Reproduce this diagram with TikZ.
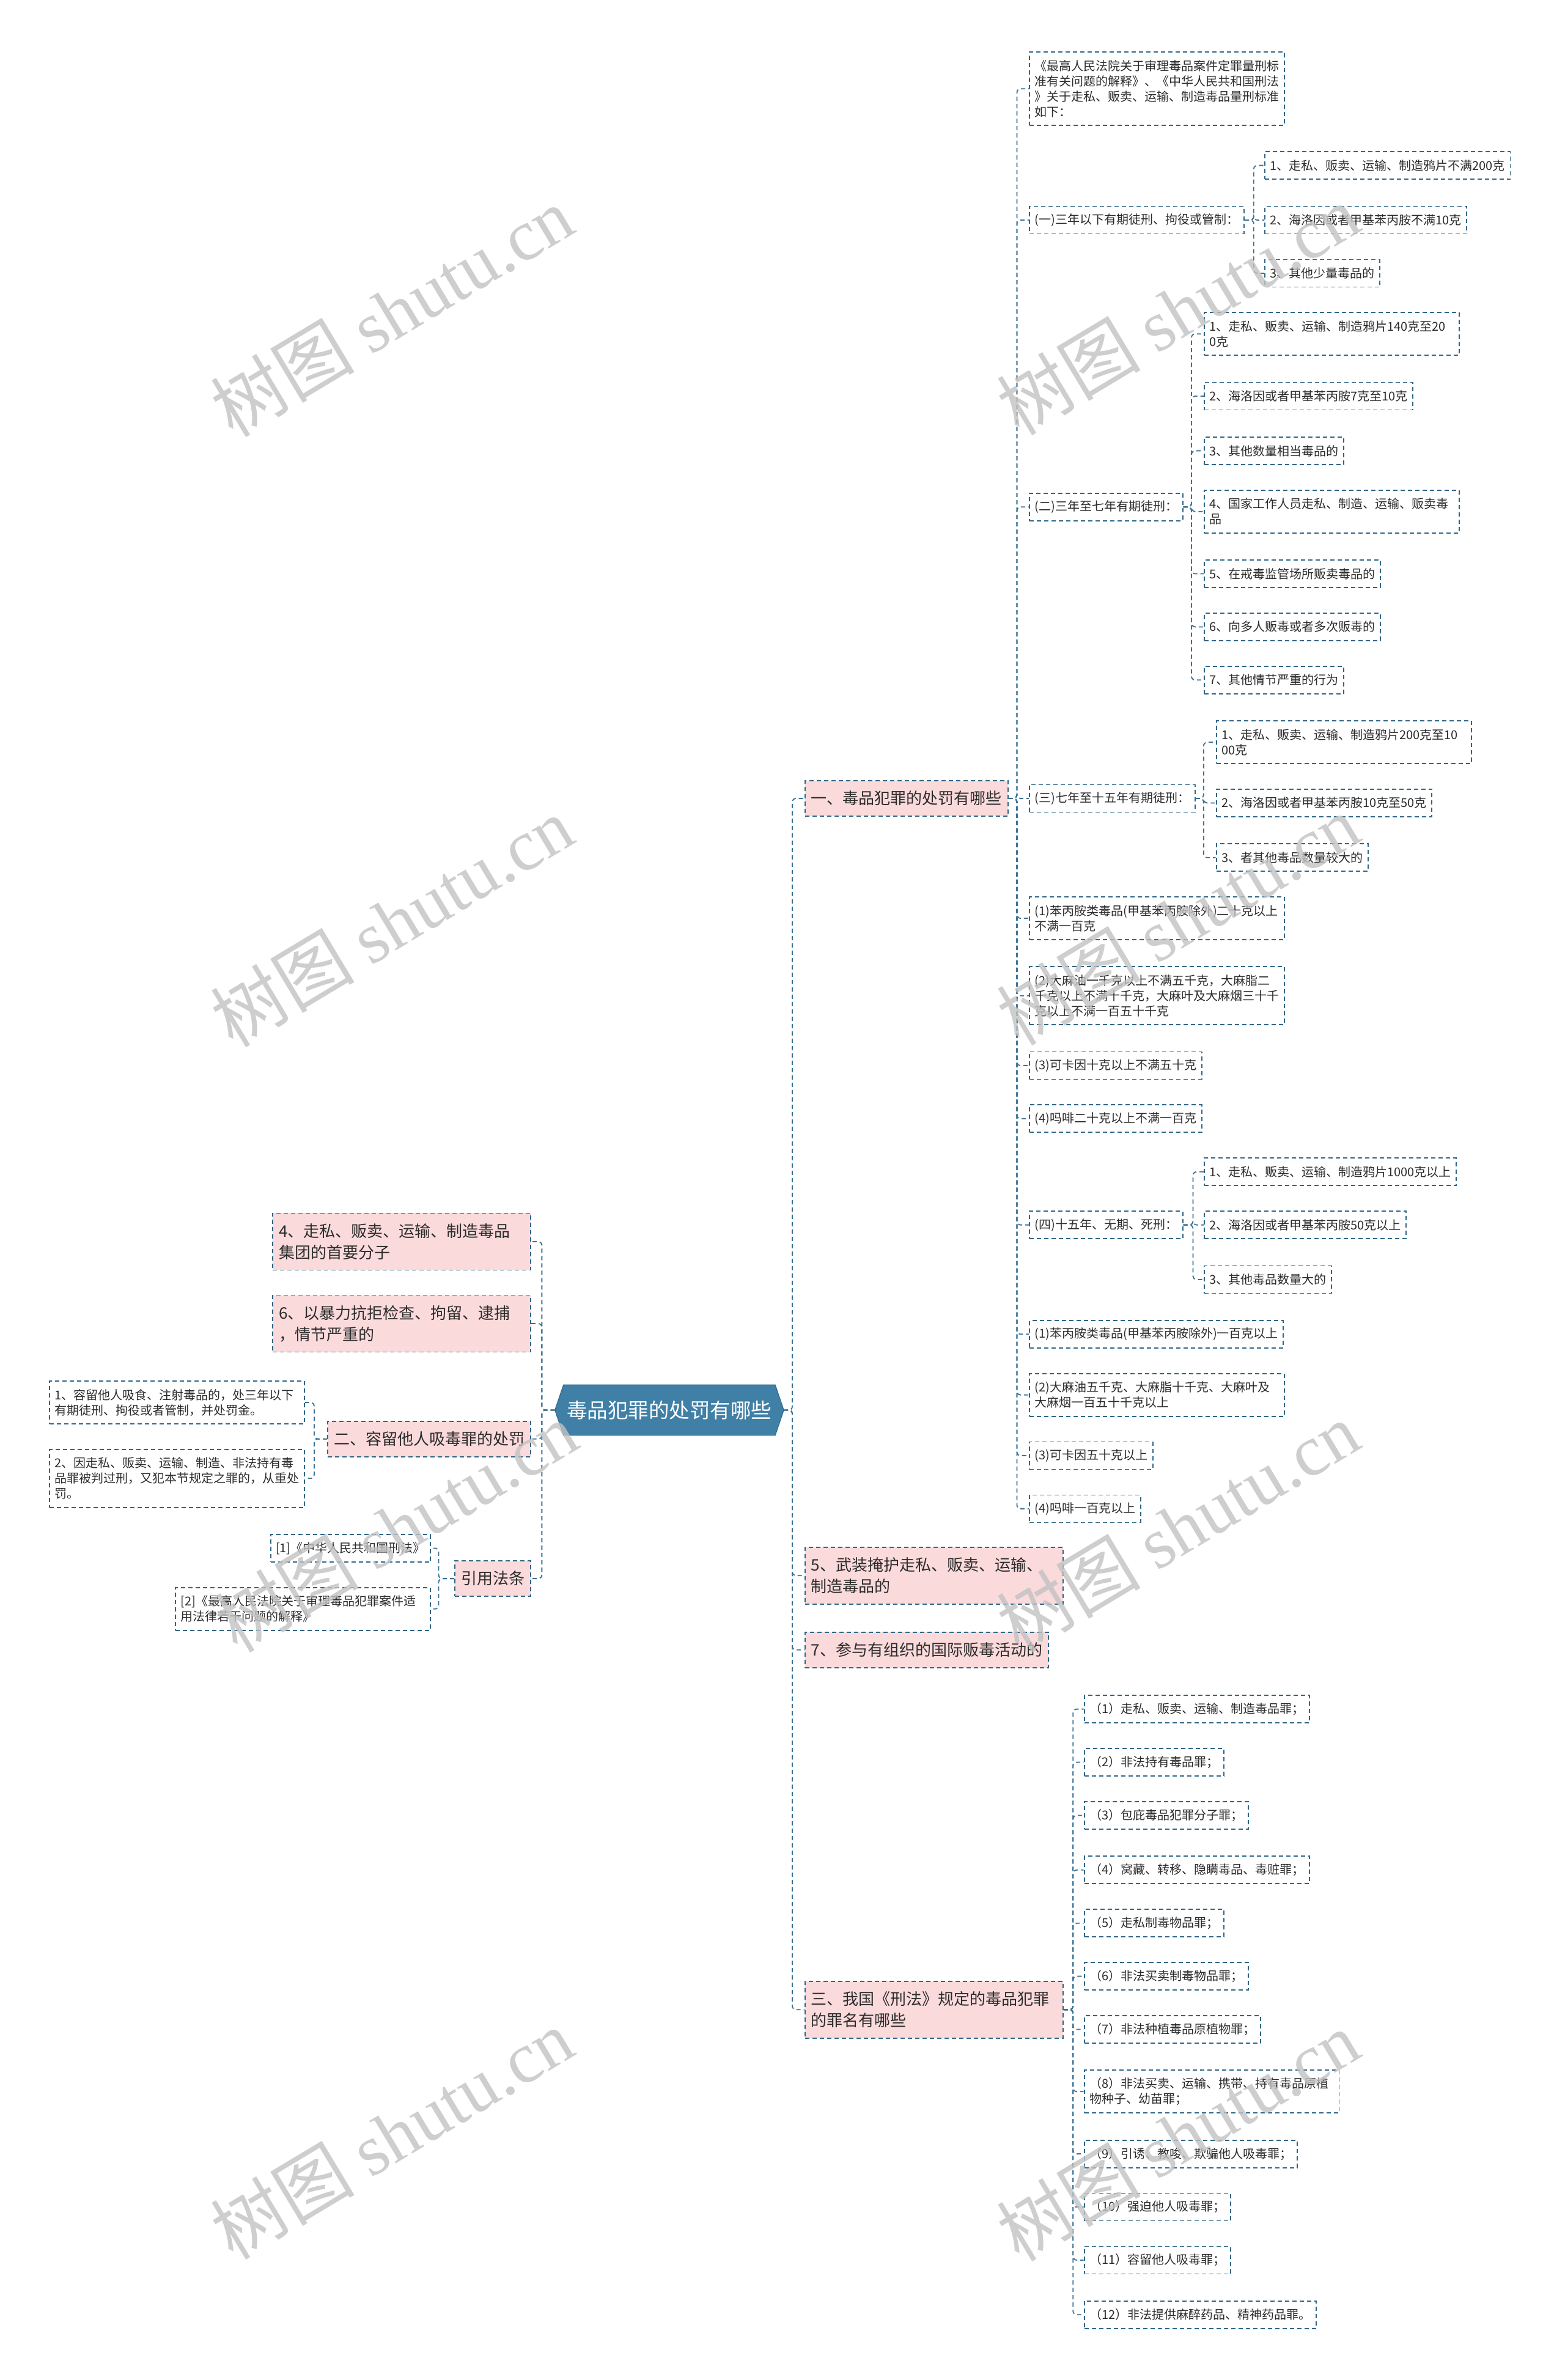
\documentclass[tikz,border=0pt]{standalone}
\usepackage{fontspec}
\setmainfont{Noto Sans CJK SC}
\newfontfamily\wmlat{Liberation Serif}
\definecolor{bcol}{HTML}{2F6686}
\definecolor{ccol}{HTML}{3C7294}
\definecolor{pinkf}{HTML}{FADADB}
\definecolor{rootf}{HTML}{407FA6}
\definecolor{rootb}{HTML}{2F6A90}
\definecolor{txt}{HTML}{2B2B2B}
\tikzset{
 leaf/.style={draw=bcol, line width=1.8pt, dash pattern=on 7pt off 5pt, fill=white,
   font=\fontsize{20}{25}\selectfont, text=txt, inner xsep=8.5pt, inner ysep=0pt,
   minimum height=45pt, align=left},
 wrap/.style={text width=400pt},
 pwrap/.style={text width=402pt},
 l2/.style={minimum height=70pt},
 l3/.style={minimum height=95pt},
 l4/.style={minimum height=120pt},
 pinkbox/.style={leaf, fill=pinkf, font=\fontsize{26}{35}\selectfont, inner xsep=10pt, minimum height=58pt},
 p2/.style={minimum height=93pt},
 R/.style={anchor=west},
 L/.style={anchor=east},
 conn/.style={draw=ccol, line width=1.8pt, dash pattern=on 7pt off 5pt, rounded corners=6pt},
 wm/.style={text=black!24, opacity=0.8, rotate=31, font=\fontsize{118}{118}\selectfont}
}
\begin{document}
\begin{tikzpicture}[x=2.483pt, y=-2.483pt]
\useasboundingbox (0,0) rectangle (1031,1568);
% root
\node[minimum width=374pt, minimum height=82pt, inner sep=0pt] (root) at (441,929) {};
\filldraw[fill=rootf, draw=rootb, line width=1.2pt] (root.west) -- ([xshift=14pt]root.north west) -- ([xshift=-14pt]root.north east) -- (root.east) -- ([xshift=-14pt]root.south east) -- ([xshift=14pt]root.south west) -- cycle;
\node[text=white, font=\fontsize{33.5}{40}\selectfont] (rootlabel) at (root) {毒品犯罪的处罚有哪些};

% right level 1
\node[pinkbox, R] (n1) at (530,526) {一、毒品犯罪的处罚有哪些};
\node[pinkbox, R, pwrap, p2] (n5) at (530,1038) {5、武装掩护走私、贩卖、运输、\\制造毒品的};
\node[pinkbox, R] (n7) at (530,1087) {7、参与有组织的国际贩毒活动的};
\node[pinkbox, R, pwrap, p2] (n3) at (530,1324) {三、我国《刑法》规定的毒品犯罪\\的罪名有哪些};

% left level 1
\node[pinkbox, L, pwrap, p2] (L4) at (350,818) {4、走私、贩卖、运输、制造毒品\\集团的首要分子};
\node[pinkbox, L, pwrap, p2] (L6) at (350,872) {6、以暴力抗拒检查、拘留、逮捕\\，情节严重的};
\node[pinkbox, L] (L2) at (350,948) {二、容留他人吸毒罪的处罚};
\node[pinkbox, L] (Lref) at (350,1040) {引用法条};

% branch 1 children
\node[leaf, R, wrap, l4] (t0) at (678,58.5) {《最高人民法院关于审理毒品案件定罪量刑标\\准有关问题的解释》、《中华人民共和国刑法\\》关于走私、贩卖、运输、制造毒品量刑标准\\如下：};
\node[leaf, R] (s1) at (678,145) {(一)三年以下有期徒刑、拘役或管制：};
\node[leaf, R] (s2) at (678,334) {(二)三年至七年有期徒刑：};
\node[leaf, R] (s3) at (678,526) {(三)七年至十五年有期徒刑：};
\node[leaf, R, wrap, l2] (a1) at (678,605) {(1)苯丙胺类毒品(甲基苯丙胺除外)二十克以上\\不满一百克};
\node[leaf, R, wrap, l3] (a2) at (678,656) {(2)大麻油一千克以上不满五千克，大麻脂二\\千克以上不满十千克，大麻叶及大麻烟三十千\\克以上不满一百五十千克};
\node[leaf, R] (a3) at (678,702) {(3)可卡因十克以上不满五十克};
\node[leaf, R] (a4) at (678,737) {(4)吗啡二十克以上不满一百克};
\node[leaf, R] (s4) at (678,807) {(四)十五年、无期、死刑：};
\node[leaf, R] (b1) at (678,879) {(1)苯丙胺类毒品(甲基苯丙胺除外)一百克以上};
\node[leaf, R, wrap, l2] (b2) at (678,919) {(2)大麻油五千克、大麻脂十千克、大麻叶及\\大麻烟一百五十千克以上};
\node[leaf, R] (b3) at (678,959) {(3)可卡因五十克以上};
\node[leaf, R] (b4) at (678,994) {(4)吗啡一百克以上};

% (一) children
\node[leaf, R] (s1a) at (833,109) {1、走私、贩卖、运输、制造鸦片不满200克};
\node[leaf, R] (s1b) at (833,145) {2、海洛因或者甲基苯丙胺不满10克};
\node[leaf, R] (s1c) at (833,180) {3、其他少量毒品的};
% (二) children
\node[leaf, R, wrap, l2] (s2a) at (793,220) {1、走私、贩卖、运输、制造鸦片140克至20\\0克};
\node[leaf, R] (s2b) at (793,261) {2、海洛因或者甲基苯丙胺7克至10克};
\node[leaf, R] (s2c) at (793,297) {3、其他数量相当毒品的};
\node[leaf, R, wrap, l2] (s2d) at (793,337) {4、国家工作人员走私、制造、运输、贩卖毒\\品};
\node[leaf, R] (s2e) at (793,378) {5、在戒毒监管场所贩卖毒品的};
\node[leaf, R] (s2f) at (793,413) {6、向多人贩毒或者多次贩毒的};
\node[leaf, R] (s2g) at (793,448) {7、其他情节严重的行为};
% (三) children
\node[leaf, R, wrap, l2] (s3a) at (801,489) {1、走私、贩卖、运输、制造鸦片200克至10\\00克};
\node[leaf, R] (s3b) at (801,529) {2、海洛因或者甲基苯丙胺10克至50克};
\node[leaf, R] (s3c) at (801,565) {3、者其他毒品数量较大的};
% (四) children
\node[leaf, R] (s4a) at (793,772) {1、走私、贩卖、运输、制造鸦片1000克以上};
\node[leaf, R] (s4b) at (793,807) {2、海洛因或者甲基苯丙胺50克以上};
\node[leaf, R] (s4c) at (793,843) {3、其他毒品数量大的};

% 三 children
\node[leaf, R] (c1) at (714,1126) {（1）走私、贩卖、运输、制造毒品罪；};
\node[leaf, R] (c2) at (714,1161) {（2）非法持有毒品罪；};
\node[leaf, R] (c3) at (714,1196) {（3）包庇毒品犯罪分子罪；};
\node[leaf, R] (c4) at (714,1232) {（4）窝藏、转移、隐瞒毒品、毒赃罪；};
\node[leaf, R] (c5) at (714,1267) {（5）走私制毒物品罪；};
\node[leaf, R] (c6) at (714,1302) {（6）非法买卖制毒物品罪；};
\node[leaf, R] (c7) at (714,1337) {（7）非法种植毒品原植物罪；};
\node[leaf, R, wrap, l2] (c8) at (714,1378) {（8）非法买卖、运输、携带、持有毒品原植\\物种子、幼苗罪；};
\node[leaf, R] (c9) at (714,1419) {（9）引诱、教唆、欺骗他人吸毒罪；};
\node[leaf, R] (c10) at (714,1454) {（10）强迫他人吸毒罪；};
\node[leaf, R] (c11) at (714,1489) {（11）容留他人吸毒罪；};
\node[leaf, R] (c12) at (714,1525) {（12）非法提供麻醉药品、精神药品罪。};

% 二 children
\node[leaf, L, wrap, l2] (d1) at (201,924) {1、容留他人吸食、注射毒品的，处三年以下\\有期徒刑、拘役或者管制，并处罚金。};
\node[leaf, L, wrap, l3] (d2) at (201,974) {2、因走私、贩卖、运输、制造、非法持有毒\\品罪被判过刑，又犯本节规定之罪的，从重处\\罚。};
% 引用法条 children
\node[leaf, L] (r1) at (284,1020) {[1]《中华人民共和国刑法》};
\node[leaf, L, wrap, l2] (r2) at (284,1060) {[2]《最高人民法院关于审理毒品犯罪案件适\\用法律若干问题的解释》};

% connectors
\coordinate (vR) at (522,0);
\coordinate (vL) at (357,0);
\coordinate (v1) at (670,0);
\coordinate (vs1) at (826,0);
\coordinate (vs2) at (785,0);
\coordinate (vs3) at (793,0);
\coordinate (vs4) at (786,0);
\coordinate (v3) at (707,0);
\coordinate (v2) at (207,0);
\coordinate (vr) at (289,0);
\foreach \c in {n1,n5,n7,n3} \draw[conn] (root.east) -- (root.east -| vR) |- (\c.west);
\foreach \c in {L4,L6,L2,Lref} \draw[conn] (root.west) -- (root.west -| vL) |- (\c.east);
\foreach \c in {t0,s1,s2,s3,a1,a2,a3,a4,s4,b1,b2,b3,b4} \draw[conn] (n1.east) -- (n1.east -| v1) |- (\c.west);
\foreach \c in {s1a,s1b,s1c} \draw[conn] (s1.east) -- (s1.east -| vs1) |- (\c.west);
\foreach \c in {s2a,s2b,s2c,s2d,s2e,s2f,s2g} \draw[conn] (s2.east) -- (s2.east -| vs2) |- (\c.west);
\foreach \c in {s3a,s3b,s3c} \draw[conn] (s3.east) -- (s3.east -| vs3) |- (\c.west);
\foreach \c in {s4a,s4b,s4c} \draw[conn] (s4.east) -- (s4.east -| vs4) |- (\c.west);
\foreach \c in {c1,c2,c3,c4,c5,c6,c7,c8,c9,c10,c11,c12} \draw[conn] (n3.east) -- (n3.east -| v3) |- (\c.west);
\foreach \c in {d1,d2} \draw[conn] (L2.west) -- (L2.west -| v2) |- (\c.east);
\foreach \c in {r1,r2} \draw[conn] (Lref.west) -- (Lref.west -| vr) |- (\c.east);

% watermarks
\foreach \wx/\wy [count=\i] in {258/205, 776/204, 258/607, 776/606, 261/1006, 776/1006, 258/1406, 776/1407}
  \node[wm] (wm\i) at (\wx,\wy) {树图 {\wmlat shutu.cn}};
\end{tikzpicture}
\end{document}
